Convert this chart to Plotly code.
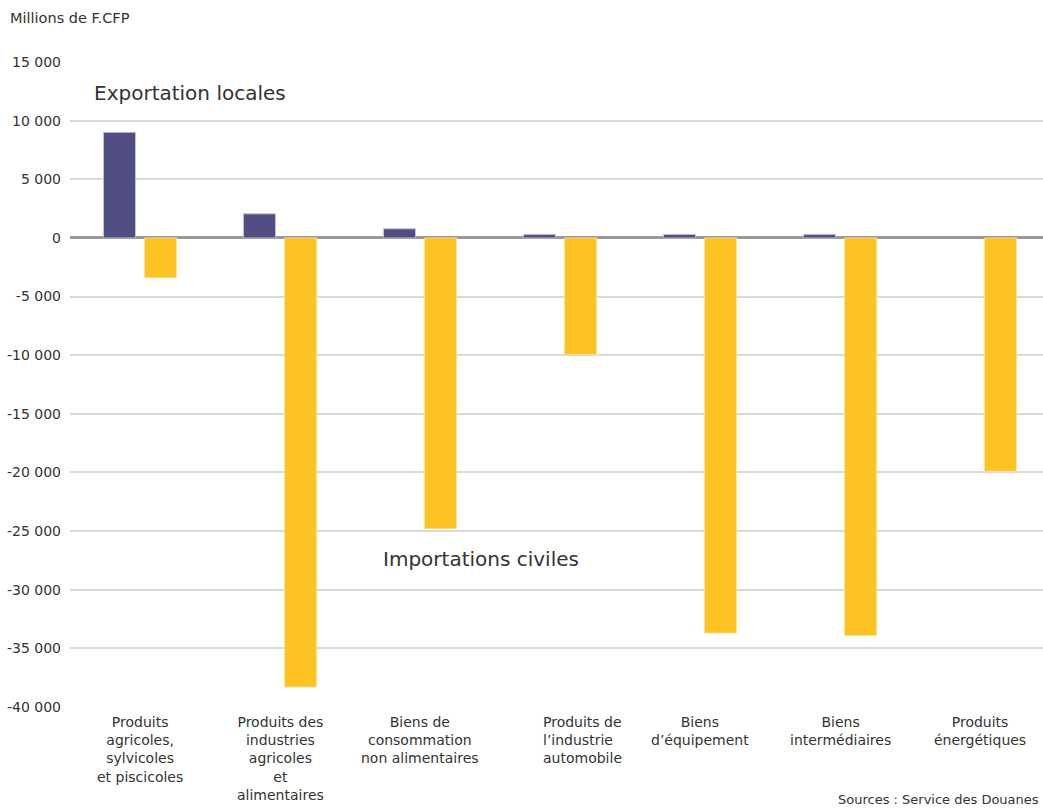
import plotly.graph_objects as go

categories = [
    "Produits<br>agricoles,<br>sylvicoles<br>et piscicoles",
    "Produits des<br>industries<br>agricoles<br>et<br>alimentaires",
    "Biens de<br>consommation<br>non alimentaires",
    "Produits de<br>l’industrie<br>automobile",
    "Biens<br>d’équipement",
    "Biens<br>intermédiaires",
    "Produits<br>énergétiques",
]
exportations = [9000, 2050, 780, 300, 300, 300, 0]
importations = [-3400, -38300, -24800, -9950, -33700, -33900, -19900]

ytick_vals = [15000, 10000, 5000, 0, -5000, -10000, -15000, -20000, -25000, -30000, -35000, -40000]
ytick_text = ["15 000", "10 000", "5 000", "0", "-5 000", "-10 000", "-15 000", "-20 000",
              "-25 000", "-30 000", "-35 000", "-40 000"]

FONT = "DejaVu Sans"
TXT = "#333333"
x_idx = list(range(len(categories)))

fig = go.Figure()
fig.add_trace(go.Bar(x=x_idx, y=exportations, name="Exportation locales",
                     marker=dict(color="#504e83",
                                 line=dict(color="#c9c8dd",
                                           width=[0.8 if v != 0 else 0 for v in exportations]))))
fig.add_trace(go.Bar(x=x_idx, y=importations, name="Importations civiles",
                     marker=dict(color="#fdc323", line=dict(color="#fde39a", width=0.8))))

# category labels (the 4th one is left-aligned and shifted in the original)
for i, c in enumerate(categories):
    shift = 22 if i == 3 else 0
    fig.add_annotation(x=i, y=0, xref="x", yref="paper", text=c, showarrow=False,
                       yanchor="top", yshift=-5, xshift=shift,
                       align="left" if i == 3 else "center",
                       font=dict(family=FONT, size=14, color=TXT))

fig.add_annotation(text="Millions de F.CFP", x=-62 / 973, y=1 + (62 - 18) / 645,
                   xref="paper", yref="paper", xanchor="left", yanchor="middle",
                   showarrow=False, font=dict(family=FONT, size=14.5, color=TXT))
fig.add_annotation(text="Exportation locales", x=(92 - 70) / 973, y=12350,
                   xref="paper", yref="y", xanchor="left", yanchor="middle",
                   showarrow=False, font=dict(family=FONT, size=20, color=TXT))
fig.add_annotation(text="Importations civiles", x=2.0, y=-27400, xref="x", yref="y",
                   xanchor="left", yanchor="middle", showarrow=False, xshift=-39,
                   font=dict(family=FONT, size=20, color=TXT))
fig.add_annotation(text="Sources : Service des Douanes", x=1, y=-(800 - 707) / 645,
                   xref="paper", yref="paper", xanchor="right", yanchor="middle",
                   showarrow=False, xshift=-2, font=dict(family=FONT, size=13, color=TXT))

fig.update_layout(
    width=1043, height=810,
    margin=dict(l=70, r=0, t=62, b=103),
    paper_bgcolor="white", plot_bgcolor="white",
    barmode="group", bargap=0.414, bargroupgap=0.22,
    showlegend=False,
    font=dict(family=FONT, size=14, color=TXT),
    xaxis=dict(range=[-0.5, 6.45], showticklabels=False, showgrid=False, zeroline=False,
               showline=False, ticks=""),
    yaxis=dict(range=[-40000, 15000], tickvals=ytick_vals, ticktext=ytick_text,
               showgrid=True, gridcolor="#d9d9d9", gridwidth=2,
               zeroline=True, zerolinecolor="#999999", zerolinewidth=3,
               ticks="", ticklabelstandoff=8, tickfont=dict(family=FONT, size=14, color=TXT)),
)

fig.write_html("out.html")
